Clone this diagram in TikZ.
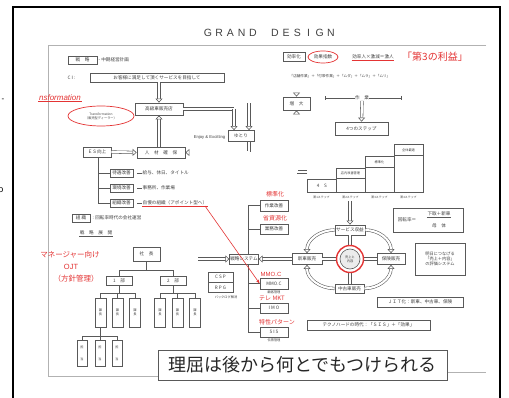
\documentclass[tikz,border=0pt]{standalone}
\usepackage{fontspec}
\setmainfont{Noto Sans CJK JP}
\newfontfamily\latinfont{Liberation Sans}
\usetikzlibrary{arrows.meta,shapes.geometric,calc}
\newcommand\tz{\fontsize{4.6}{5.4}\selectfont}
\newcommand\tzs{\fontsize{3.2}{3.8}\selectfont}
\definecolor{ink}{gray}{0.25}
\definecolor{lineg}{gray}{0.35}
\definecolor{scanred}{RGB}{228,52,52}
\tikzset{
 bx/.style={draw=lineg, line width=0.8pt, fill=white, inner sep=0.5pt, font=\tz, text=ink, align=center},
 lbl/.style={font=\tz, text=ink, inner sep=0.5pt},
 rlbl/.style={font=\fontsize{6}{6}\selectfont, text=scanred, inner sep=0.5pt},
 thinl/.style={draw=lineg, line width=0.6pt},
 dbl/.style={draw=lineg, line width=0.55pt, double=white, double distance=2.1pt},
 dblar/.style={dbl, -{Triangle[open, fill=white, length=4pt, width=7pt]}},
}
\begin{document}
\begin{tikzpicture}[x=1pt,y=-1pt]
\useasboundingbox (0,0) rectangle (509,398);
\fill[white] (0,0) rectangle (509,398);
% outer slide frame
\draw[line width=1.8pt, black] (13,402) -- (13,7) -- (500,7) -- (500,402);
\node[font=\fontsize{8}{8}\selectfont\latinfont] (fragA) at (3,100) {-};
\node[font=\fontsize{9}{9}\selectfont\latinfont] (fragB) at (1,190) {o};
% inner document frame
\draw[draw=gray!60, line width=0.7pt] (486,45) -- (48,45) -- (48,376) -- (158,376);
\draw[draw=gray!60, line width=0.7pt] (447,372) -- (486,372);
% title
\foreach \ch [count=\i] in {G,R,A,N,D}
  \node[font=\fontsize{10.5}{10.5}\selectfont\latinfont, text=ink] (ta\i) at ({208+(\i-1)*11.2},33) {\ch};
\foreach \ch [count=\i] in {D,E,S,I,G,N}
  \node[font=\fontsize{10.5}{10.5}\selectfont\latinfont, text=ink] (tb\i) at ({275+(\i-1)*11.2},33) {\ch};

% ---------- top left ----------
\node[bx, minimum width=29pt, minimum height=8pt] (senryaku) at (82.5,60) {戦　略};
\node[lbl, anchor=west] (senryakuT) at (98,60) {- 中期経営計画};
\node[lbl, anchor=west] (ciL) at (67,77.5) {C I :};
\node[bx, minimum width=134pt, minimum height=9pt] (ci) at (157,77.5) {お客様に満足して頂くサービスを目指して};
\node[font=\fontsize{8}{8}\selectfont\latinfont\itshape, text=scanred, inner sep=0.5pt] (nsf) at (60,98) {nsformation};
\draw[scanred, line width=0.5pt] (nsf.south west) -- (nsf.south east);
\node[draw=scanred, line width=0.7pt, ellipse, minimum width=66pt, minimum height=20pt, inner sep=0pt, font=\tzs, text=ink, align=center] (trans) at (101,116) {Transformation\\（販売型ディーラー）};
\node[bx, minimum width=48pt, minimum height=12pt] (koukyu) at (159,109) {高級車販売店};
\draw[dblar] (ci.south -| koukyu.north) -- (koukyu.north);
\node[bx, minimum width=26pt, minimum height=11pt] (yutori) at (241,136) {ゆとり};
\node[lbl, anchor=east, font=\fontsize{4.2}{5}\selectfont\latinfont] (enjoy) at (226,137) {Enjoy \& Excitting};
\node[bx, minimum width=28pt, minimum height=10pt] (es) at (97,152) {ＥＳ向上};
\node[bx, minimum width=48pt, minimum height=11pt] (jinzai) at (161,152.5) {人　材　確　保};
\coordinate (kk1) at (234,109);
\coordinate (kk2) at (249,103.5);
\coordinate (yy1) at (249,152.5);
\draw[dbl] (koukyu.east) -- (kk1);
\draw[dblar] (kk1) -- (kk1 |- yutori.north);
\draw[dblar] (es.east) -- (jinzai.west);
\draw[dblar] (jinzai.north -| koukyu.south) -- (koukyu.south);
\draw[dbl] (yutori.south -| yy1) -- (yy1);
\draw[dblar] (yy1) -- (jinzai.east);
% tree of ES
\node[bx, minimum width=23pt, minimum height=8pt] (b1) at (121.5,173) {待遇改善};
\node[bx, minimum width=23pt, minimum height=8pt] (b2) at (121.5,188) {環境改善};
\node[bx, minimum width=23pt, minimum height=8pt] (b3) at (121.5,203) {組織改善};
\coordinate (tr0) at (98,203);
\draw[thinl] (es.south -| tr0) -- (tr0) -- (b3.west);
\draw[thinl] (b1.west -| tr0) -- (b1.west);
\draw[thinl] (b2.west -| tr0) -- (b2.west);
\node[lbl, anchor=west] (t1) at (142,173) {給与、休日、タイトル};
\node[lbl, anchor=west] (t2) at (142,188) {事務所、作業場};
\node[lbl, anchor=west] (t3) at (142,203) {自慢の組織（アポイント型へ）};
\draw[thinl] (b1.east) ++(4,0) -- (t1.west);
\draw[thinl] (b2.east) ++(4,0) -- (t2.west);
\draw[thinl] (b3.east) ++(4,0) -- (t3.west);
\draw[scanred, line width=0.5pt] (t3.south west) -- (t3.south east);
\node[bx, minimum width=18pt, minimum height=8pt] (soshiki) at (81,218) {組 織};
\node[lbl, anchor=west] (soshikiT) at (92,218) {: 回転率時代の会社運営};
\node[lbl] (tenkai) at (96,233) {戦　略　展　開};
\draw[thinl] (tenkai.south west) -- (tenkai.south east);
% manager labels
\node[font=\fontsize{7.5}{7.5}\selectfont, text=scanred, inner sep=0.5pt] (mgr) at (70,255) {マネージャー向け};
\node[font=\fontsize{7.5}{7.5}\selectfont\latinfont, text=scanred, inner sep=0.5pt] (ojt) at (71,267) {OJT};
\node[font=\fontsize{7.5}{7.5}\selectfont, text=scanred, inner sep=0.5pt] (hoshin) at (76,279) {（方針管理）};
% org chart
\node[bx, minimum width=27pt, minimum height=14pt] (orgtop) at (146.5,254) {社　長};
\node[bx, minimum width=26pt, minimum height=9pt] (bu1) at (119,280.5) {1　部};
\node[bx, minimum width=26pt, minimum height=9pt] (bu2) at (173,280.5) {2　部};
\coordinate (oj) at (146.5,270);
\draw[thinl] (orgtop.south) -- (oj);
\draw[thinl] (bu1.north) -- (bu1.north |- oj) -- (bu2.north |- oj) -- (bu2.north);
\foreach \x [count=\i] in {100.5,117.5,135,160,177.5,195}
  \node[bx, minimum width=11pt, minimum height=29pt, font=\tzs] (tall\i) at (\x,312.5) {課\\長};
\coordinate (ja) at (119,293);
\coordinate (jb) at (173,293);
\draw[thinl] (bu1.south) -- (ja);
\draw[thinl] (tall1.north) -- (tall1.north |- ja) -- (tall3.north |- ja) -- (tall3.north);
\draw[thinl] (tall2.north |- ja) -- (tall2.north);
\draw[thinl] (bu2.south) -- (jb);
\draw[thinl] (tall4.north) -- (tall4.north |- jb) -- (tall6.north |- jb) -- (tall6.north);
\draw[thinl] (tall5.north |- jb) -- (tall5.north);
\foreach \x [count=\i] in {82,100,117}
  \node[bx, minimum width=10pt, minimum height=26pt, font=\tzs] (low\i) at (\x,353) {担\\[8pt]当};
\coordinate (jc) at (100.5,336);
\draw[thinl] (tall1.south) -- (jc);
\draw[thinl] (low1.north) -- (low1.north |- jc) -- (low3.north |- jc) -- (low3.north);
\draw[thinl] (low2.north |- jc) -- (low2.north);
% CSP RPG
\node[bx, minimum width=25pt, minimum height=10pt] (csp) at (220.5,277) {C S P};
\node[bx, minimum width=25pt, minimum height=10pt] (rpg) at (220.5,287.5) {R P G};
\node[lbl, font=\tzs] (backlog) at (226,297.5) {バックログ解消};

% ---------- strategy system ----------
\node[bx, minimum width=28pt, minimum height=10pt] (ssys) at (244,259) {戦略システム};
\node[bx, minimum width=28pt, minimum height=11pt] (r1) at (274,205.5) {作業改善};
\node[bx, minimum width=28pt, minimum height=10pt] (r2) at (274,229) {業務改善};
\node[bx, minimum width=28pt, minimum height=11pt] (r3) at (274,283.5) {MMO.C};
\node[bx, minimum width=28pt, minimum height=10pt] (r4) at (274,308) {I M O};
\node[bx, minimum width=28pt, minimum height=10pt] (r5) at (274,332) {S I S};
\node[rlbl] (l1) at (275,194) {標準化};
\node[rlbl] (l2) at (275,218) {省資源化};
\node[rlbl, font=\fontsize{6}{6}\selectfont\latinfont] (l3) at (271,274) {MMO.C};
\node[rlbl] (l4) at (272,298) {テレ MKT};
\node[rlbl] (l5) at (277,322) {特性パターン};
\node[lbl, font=\tzs] (u3) at (274,292.5) {顧客管理};
\node[lbl, font=\tzs] (u5) at (274,340.5) {伝票管理};
\coordinate (vx) at (248,205.5);
\draw[thinl] (r1.west) -- (vx) -- (vx |- ssys.north);
\draw[thinl] (vx |- ssys.south) -- (vx |- r5.west) -- (r5.west);
\foreach \n in {r2,r3,r4} \draw[thinl] (vx |- \n.west) -- (\n.west);
\coordinate (inA) at (198,259);
\draw[dblar] (inA) -- (ssys.west);
\coordinate (redS) at (205,206);
\draw[scanred, line width=0.6pt, -{Stealth[length=4pt,width=3pt]}] (redS) -- (r3.west);

% ---------- top right ----------
\node[bx, minimum width=22pt, minimum height=9pt] (kouritsu) at (294,57) {効率化};
\node[draw=scanred, line width=0.7pt, ellipse, minimum width=30pt, minimum height=12pt, inner sep=0pt, font=\tz, text=ink] (kouka) at (323,57) {効果指数};
\node[lbl] (gekijin) at (373,57) {効率人×激減＝激人};
\draw[scanred, line width=0.5pt] (gekijin.south west) -- (gekijin.south east);
\node[font=\fontsize{10}{10}\selectfont, text=scanred, inner sep=0.5pt] (daisan) at (435,57) {「第3の利益」};
\node[lbl, font=\fontsize{3.6}{4}\selectfont] (muda) at (340,76) {「店舗作業」＋「付帯作業」＋「ムダ」＋「ムラ」＋「ムリ」};
\node[bx, minimum width=27pt, minimum height=13pt] (zoudai) at (296.5,103.5) {増　大};
\draw[dblar] (muda.south -| zoudai.north) -- (zoudai.north);
\draw[dbl] (zoudai.west) -- (kk2);
\draw[dblar] (kk2) -- (kk2 |- yutori.north);
\coordinate (dimL) at (325,98);
\coordinate (dimR) at (402,98);
\draw[thinl, {Bar[width=4pt]}-{Bar[width=4pt]}] (dimL) -- (dimR);
\node[lbl, fill=white] (sagyo) at (362,98) {作　業};
\node[bx, minimum width=53pt, minimum height=13pt] (steps) at (361.5,128.5) {4つのステップ};
\draw[dblar] (sagyo.south) -- (steps.north);
% staircase
\node[bx, minimum width=29pt, minimum height=13pt, anchor=south west] (s1) at (307,193) {4　S};
\node[bx, minimum width=29pt, minimum height=24pt, anchor=south west] (s2) at (336,193) {};
\node[bx, minimum width=29pt, minimum height=36pt, anchor=south west] (s3) at (365,193) {};
\node[bx, minimum width=29pt, minimum height=48pt, anchor=south west] (s4) at (394,193) {};
\draw[thinl] (336,178) -- (365,178);
\draw[thinl] (365,167) -- (394,167);
\draw[thinl] (394,155) -- (423,155);
\node[lbl, font=\tzs] (h2) at (350.5,173.5) {店内改善管理};
\node[lbl, font=\tzs] (h3) at (379.5,162) {標準化};
\node[lbl, font=\tzs] (h4) at (408.5,150) {全体最適};
\foreach \i/\x in {1/321.5,2/350.5,3/379.5,4/408.5}
  \node[lbl, font=\fontsize{2.9}{3}\selectfont] (st\i) at (\x,197.5) {第\i ステップ};
\coordinate (zz) at (296.5,172);
\draw[dbl] (s1.west |- zz) -- (zz);
\draw[dblar] (zz) -- (zoudai.south);

% ---------- cycle ----------
\node[bx, minimum width=30pt, minimum height=10pt] (service) at (350,230) {サービス収益};
\node[bx, minimum width=30pt, minimum height=11pt] (shinsha) at (307,259) {新車販売};
\node[bx, minimum width=28pt, minimum height=11pt] (hoken) at (391,259) {保険販売};
\node[bx, minimum width=29pt, minimum height=9pt] (chuko) at (349.5,288.5) {中古車販売};
\draw[dblar] (350,201) -- (service.north);
\draw[dbl] (shinsha.east) -- (hoken.west);
\draw[dbl] (service.south) -- (chuko.north -| service.south);
\node[circle, draw=scanred, line width=1.4pt, fill=white, minimum size=27pt, inner sep=0pt] (core) at (350,259) {};
\node[circle, draw=lineg, line width=0.6pt, fill=gray!15, minimum size=20pt, inner sep=0pt, font=\tzs, text=ink, align=center] (corein) at (350,259) {売上と\\内容};
\draw[dblar] (service.west) to[out=180, in=90] (shinsha.north);
\draw[dblar] (service.east) to[out=0, in=90] (hoken.north);
\draw[dblar] (chuko.west) to[out=180, in=-90] (shinsha.south);
\draw[dblar] (chuko.east) to[out=0, in=-90] (hoken.south);
\draw[dblar] (shinsha.west) -- (ssys.east);

% ---------- right side boxes ----------
\node[bx, minimum width=70pt, minimum height=24pt] (formula) at (428,220) {};
\node[lbl] (f1) at (407,220) {回転率＝};
\node[lbl] (f2) at (439,214) {下取＋新車};
\node[lbl] (f3) at (439,226) {母　体};
\draw[thinl] (f2.south west) -- (f2.south east);
\node[bx, minimum width=50pt, minimum height=32pt, font=\fontsize{4.2}{5.2}\selectfont] (ashita) at (440,259) {明日につなげる\\「売上＋内容」\\の評価システム};
\node[bx, minimum width=86pt, minimum height=10pt] (jit) at (420,302) {ＪＩＴ化：新車、中古車、保険};
\node[bx, minimum width=123pt, minimum height=10pt] (techno) at (368.5,325) {テクノハードの時代：「ＳＩＳ」＋「効果」};

% ---------- big caption ----------
\node[draw=lineg, line width=0.8pt, fill=white, minimum width=289pt, minimum height=30pt, inner sep=0pt, font=\fontsize{18}{18}\selectfont, text=black!85] (big) at (302.5,365) {理屈は後から何とでもつけられる};
\end{tikzpicture}
\end{document}
